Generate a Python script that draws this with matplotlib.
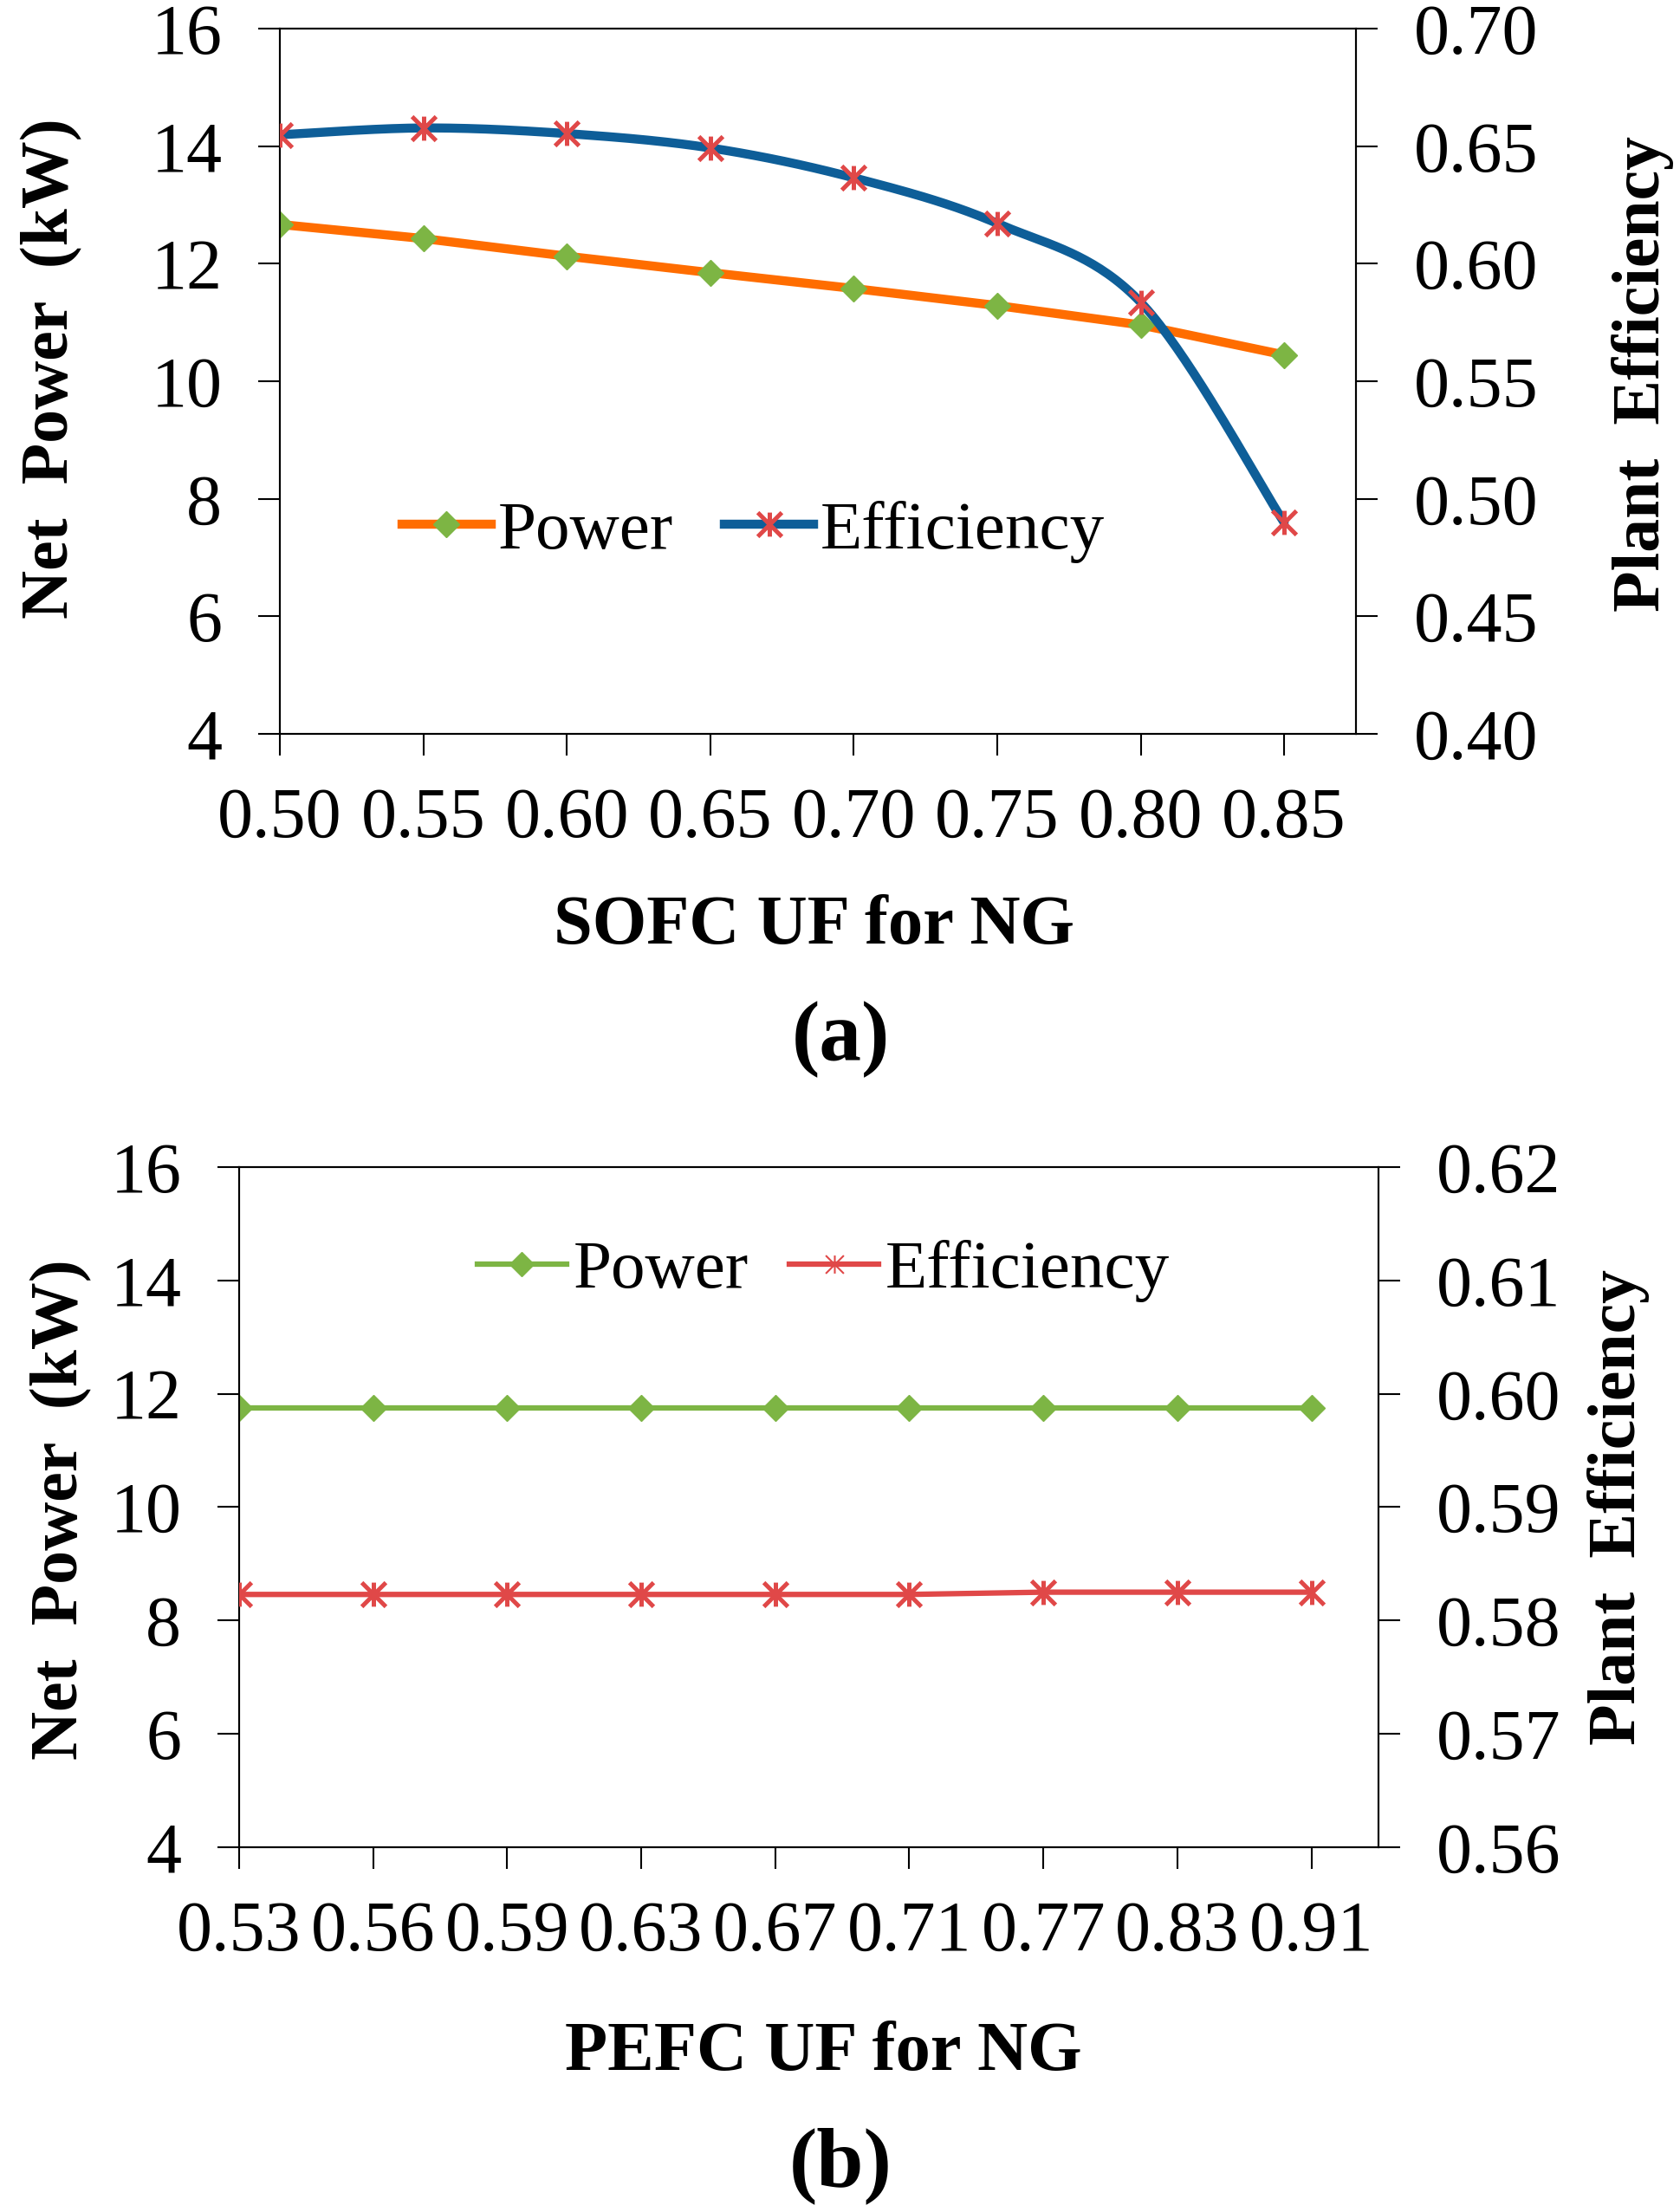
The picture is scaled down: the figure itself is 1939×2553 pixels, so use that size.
import numpy as np
import matplotlib
matplotlib.use("Agg")
import matplotlib.pyplot as plt
from matplotlib.path import Path
from matplotlib.lines import Line2D

# ---------------- data ----------------
sofc_uf = ["0.50", "0.55", "0.60", "0.65", "0.70", "0.75", "0.80", "0.85"]
sofc_power = [12.67, 12.43, 12.13, 11.85, 11.58, 11.29, 10.96, 10.45]
sofc_eff = [0.6549, 0.6578, 0.6554, 0.6493, 0.6366, 0.6172, 0.5836, 0.4899]

pefc_uf = ["0.53", "0.56", "0.59", "0.63", "0.67", "0.71", "0.77", "0.83", "0.91"]
pefc_power = [11.75, 11.75, 11.75, 11.75, 11.75, 11.75, 11.75, 11.75, 11.75]
pefc_eff = [0.5823, 0.5823, 0.5823, 0.5823, 0.5823, 0.5823, 0.5825, 0.5825, 0.5825]

left_ticks = [4, 6, 8, 10, 12, 14, 16]
right_ticks_a = [0.40, 0.45, 0.50, 0.55, 0.60, 0.65, 0.70]
right_ticks_b = [0.56, 0.57, 0.58, 0.59, 0.60, 0.61, 0.62]

# ---------------- style ----------------
SERIF = ["Liberation Serif", "DejaVu Serif"]
plt.rcParams["font.family"] = SERIF
ORANGE = "#FF6D00"
BLUE = "#0E5E98"
GREEN = "#7DB544"
RED = "#E04848"
TICK_FS = 59
YLABEL_FS = 56
XLABEL_FS = 58

star = Path([(-1, -1), (1, 1), (-1, 1), (1, -1), (0, -1), (0, 1)],
            [Path.MOVETO, Path.LINETO, Path.MOVETO, Path.LINETO, Path.MOVETO, Path.LINETO])


def smooth(xs, ys, n=40):
    """Excel-style smoothed line (cardinal Bezier) through the data points."""
    P = np.column_stack([xs, ys]).astype(float)
    out = []
    m = len(P)
    t = np.linspace(0, 1, n)[:, None]
    for i in range(m - 1):
        p0 = P[max(i - 1, 0)]
        p1 = P[i]
        p2 = P[i + 1]
        p3 = P[min(i + 2, m - 1)]
        c1 = p1 + (p2 - p0) / 6.0
        c2 = p2 - (p3 - p1) / 6.0
        seg = ((1 - t) ** 3) * p1 + 3 * ((1 - t) ** 2) * t * c1 + 3 * (1 - t) * t ** 2 * c2 + t ** 3 * p2
        out.append(seg if i == 0 else seg[1:])
    s = np.vstack(out)
    return s[:, 0], s[:, 1]


def style_axes(ax, ax2):
    for a in (ax, ax2):
        for sp in a.spines.values():
            sp.set_linewidth(1.5)
            sp.set_color("black")
    ax.tick_params(axis="both", direction="out", length=18, width=1.5,
                   labelsize=TICK_FS, pad=30)
    ax.tick_params(axis="x", pad=26)
    ax2.tick_params(axis="y", direction="out", length=18, width=1.5,
                    labelsize=TICK_FS, pad=30)


fig = plt.figure(figsize=(19.39, 25.53), dpi=100)

# ---------------- panel (a) ----------------
axa = fig.add_axes([0.1666, 0.6682, 0.6405, 0.3188])
axa2 = axa.twinx()
xa = np.arange(len(sofc_uf))
axa.plot(xa, sofc_power, color=ORANGE, lw=7.5, solid_capstyle="round", zorder=2)
axa.plot(xa, sofc_power, ls="none", marker="D", ms=15.5, mfc=GREEN, mec=GREEN,
         mew=1, zorder=3)
sx, sy = smooth(xa, sofc_eff)
axa2.plot(sx, sy, color=BLUE, lw=7.5, solid_capstyle="round", zorder=2)
axa2.plot(xa, sofc_eff, ls="none", marker=star, ms=20, mec=RED, mew=3.6, zorder=3)

axa.set_xlim(0, len(sofc_uf) - 0.5)
axa.set_ylim(4, 16)
axa.set_yticks(left_ticks)
axa.set_yticklabels([str(v) for v in left_ticks])
axa.set_xticks(xa)
axa.set_xticklabels(sofc_uf)
axa2.set_ylim(0.40, 0.70)
axa2.set_yticks(right_ticks_a)
axa2.set_yticklabels([f"{v:.2f}" for v in right_ticks_a])
style_axes(axa, axa2)

ha = [Line2D([], [], color=ORANGE, lw=7.5, marker="D", ms=15, mfc=GREEN, mec=GREEN),
      Line2D([], [], color=BLUE, lw=7.5, marker=star, ms=20, mec=RED, mew=3.6)]
axa2.legend(ha, ["Power", "Efficiency"], loc="center", bbox_to_anchor=(0.44, 0.287),
            ncol=2, frameon=False, fontsize=57, handlelength=1.3, handletextpad=0.1,
            columnspacing=0.75, numpoints=1, borderpad=0.1)

fig.text(60 / 1939, 1 - 425 / 2553, "Net  Power  (kW)", rotation=90, ha="center",
         va="center", fontsize=YLABEL_FS, fontweight="bold")
fig.text(1896 / 1939, 1 - 432 / 2553, "Plant  Efficiency", rotation=90, ha="center",
         va="center", fontsize=YLABEL_FS, fontweight="bold")
fig.text(940 / 1939, 1 - 1070 / 2553, "SOFC UF for NG", ha="center", va="center",
         fontsize=XLABEL_FS, fontweight="bold")
fig.text(970 / 1939, 1 - 1200 / 2553, "(a)", ha="center", va="center",
         fontsize=70, fontweight="bold")

# ---------------- panel (b) ----------------
axb = fig.add_axes([0.1423, 0.1649, 0.6782, 0.3075])
axb2 = axb.twinx()
xb = np.arange(len(pefc_uf))
axb.plot(xb, pefc_power, color=GREEN, lw=4.5, zorder=2)
axb.plot(xb, pefc_power, ls="none", marker="D", ms=15.5, mfc=GREEN, mec=GREEN, mew=1,
         zorder=3)
axb2.plot(xb, pefc_eff, color=RED, lw=4.5, zorder=2)
axb2.plot(xb, pefc_eff, ls="none", marker=star, ms=20, mec=RED, mew=3.6, zorder=3)

axb.set_xlim(0, len(pefc_uf) - 0.5)
axb.set_ylim(4, 16)
axb.set_yticks(left_ticks)
axb.set_yticklabels([str(v) for v in left_ticks])
axb.set_xticks(xb)
axb.set_xticklabels(pefc_uf)
axb2.set_ylim(0.56, 0.62)
axb2.set_yticks(right_ticks_b)
axb2.set_yticklabels([f"{v:.2f}" for v in right_ticks_b])
style_axes(axb, axb2)

hb = [Line2D([], [], color=GREEN, lw=4.5, marker="D", ms=14, mfc=GREEN, mec=GREEN),
      Line2D([], [], color=RED, lw=4.5, marker=star, ms=15, mec=RED, mew=1.5)]
axb2.legend(hb, ["Power", "Efficiency"], loc="center", bbox_to_anchor=(0.513, 0.847),
            ncol=2, frameon=False, fontsize=57, handlelength=1.3, handletextpad=0.1,
            columnspacing=0.6, numpoints=1, borderpad=0.1)

fig.text(71 / 1939, 1 - 1742 / 2553, "Net  Power  (kW)", rotation=90, ha="center",
         va="center", fontsize=YLABEL_FS, fontweight="bold")
fig.text(1868 / 1939, 1 - 1740 / 2553, "Plant  Efficiency", rotation=90, ha="center",
         va="center", fontsize=YLABEL_FS, fontweight="bold")
fig.text(950 / 1939, 1 - 2370 / 2553, "PEFC UF for NG", ha="center", va="center",
         fontsize=XLABEL_FS, fontweight="bold")
fig.text(970 / 1939, 1 - 2500 / 2553, "(b)", ha="center", va="center",
         fontsize=70, fontweight="bold")

fig.savefig("out.png", dpi=100, facecolor="white")
